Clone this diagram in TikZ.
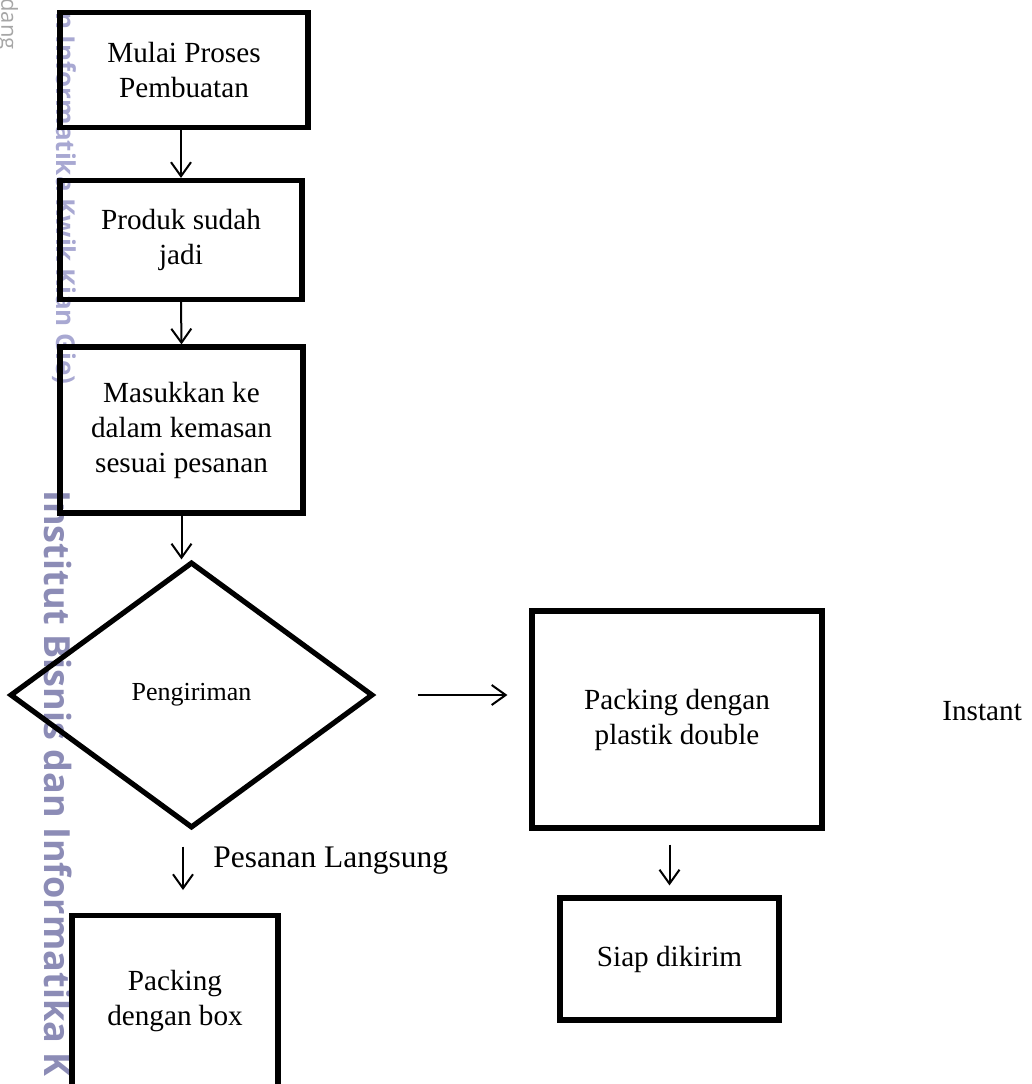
\documentclass[tikz,border=0pt]{standalone}
\usepackage{fontspec}
\setmainfont{Liberation Serif}
\newfontfamily\wmfont{Open Sans}
\usetikzlibrary{shapes.geometric}
\usetikzlibrary{arrows.meta}
\usepackage{xcolor}
\definecolor{wmblue}{RGB}{140,140,182}
\definecolor{wmlight}{RGB}{168,168,210}

\begin{document}
\begin{tikzpicture}[x=0.5pt, y=-0.5pt]
  \tikzstyle{proc} = [draw, line width=2.6pt, align=center, inner sep=0pt,
  font=\fontsize{14.6}{17.5}\selectfont]
  \tikzstyle{decis} = [draw, diamond, line width=2.6pt, inner sep=0pt,
  font=\fontsize{13}{15}\selectfont] % smaller text in the diamond
  \tikzstyle{labeltext} = [inner sep=0pt, font=\fontsize{14.6}{17.5}\selectfont]
  \tikzstyle{flow} = [line width=1pt, -{Straight Barb[length=7pt, width=10pt]}]
  \tikzstyle{wmark} = [rotate=-90, inner sep=0pt]

\useasboundingbox (0,0) rectangle (1032,1084);
\clip (0,0) rectangle (1032,1084);

% watermark of the scan
\node[wmark, anchor=east, text=gray!70, font=\wmfont\fontsize{11}{13}\selectfont]
  (wmtop) at (7,50) {dang};
\node[wmark, anchor=east, text=wmlight, font=\wmfont\bfseries\fontsize{13}{15}\selectfont]
  (wmmid) at (64,385) {n Informatika Kwik Kian Gie)};
\node[wmark, anchor=west, text=wmblue, font=\wmfont\bfseries\fontsize{18}{20}\selectfont]
  (wmlow) at (58,490) {Institut Bisnis dan Informatika K};

% main column
\node[proc, minimum width=124pt, minimum height=57.5pt] (mulai) at (184,70)
  {Mulai Proses\\Pembuatan};
\node[proc, minimum width=121pt, minimum height=59.5pt] (produk) at (181,240)
  {Produk sudah\\jadi};
\node[proc, minimum width=121.5pt, minimum height=83pt] (kemas) at (181.5,430)
  {Masukkan ke\\dalam kemasan\\sesuai pesanan};
\node[decis, minimum width=181.5pt, minimum height=133pt] (kirim) at (191.5,695)
  {Pengiriman};

\node[proc, anchor=north, minimum width=103pt, minimum height=110pt] (box) at (175,913) {};
\node[labeltext, align=center] (boxtxt) at (175,1001) {Packing\\dengan box};

\node[labeltext, anchor=base west, font=\fontsize{15.7}{18}\selectfont]
  (langsung) at (213,867) {Pesanan Langsung};

% right branch
\node[proc, minimum width=145pt, minimum height=108.5pt] (plastik) at (677,719.5)
  {Packing dengan\\plastik double};
\node[proc, minimum width=109.5pt, minimum height=61pt] (siap) at (669.5,959)
  {\raisebox{-2pt}{Siap dikirim}};
\node[labeltext, anchor=base west] (instant) at (942,720) {Instant};

\draw[flow] (mulai.south -| produk.north) -- (produk.north);
\draw[flow] (produk.south) -- (kemas.north);
\draw[flow] (kemas.south) -- (kemas.south |- kirim.north);
\draw[flow, shorten <=8pt, shorten >=11.5pt]
  ([xshift=-4.25pt]kirim.south) -- ([xshift=-4.25pt]kirim.south |- box.north);
\draw[flow, shorten <=21pt, shorten >=11pt] (kirim.east) -- (kirim.east -| plastik.west);
\draw[flow, shorten <=7pt, shorten >=5pt] (plastik.south -| siap.north) -- (siap.north);

\end{tikzpicture}
\end{document}
